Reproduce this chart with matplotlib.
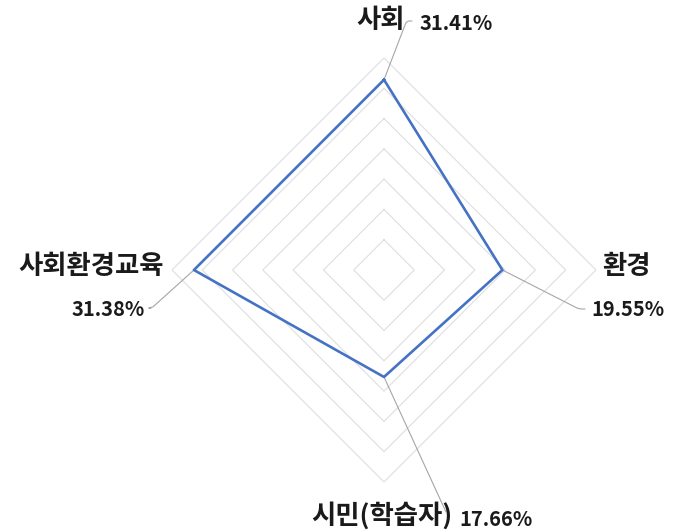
import numpy as np
import matplotlib
matplotlib.use('agg')
import matplotlib.pyplot as plt

plt.rcParams['font.family'] = ['Noto Sans CJK KR', 'DejaVu Sans']

categories = ['사회', '환경', '시민(학습자)', '사회환경교육']
values = [31.41, 19.55, 17.66, 31.38]
value_labels = ['31.41%', '19.55%', '17.66%', '31.38%']
ring_levels = [5, 10, 15, 20, 25, 30, 35]

W, H = 675, 531
fig = plt.figure(figsize=(W / 100, H / 100), dpi=100)

# polar axes centred at (384, 270) px with radius ~212 px
cx, cy, rad = 384, 270, 212
ax = fig.add_axes([(cx - rad) / W, (H - cy - rad) / H, 2 * rad / W, 2 * rad / H],
                  projection='polar')
ax.set_theta_offset(np.pi / 2)
ax.set_theta_direction(-1)
ax.set_ylim(0, 35)
ax.grid(False)
ax.spines['polar'].set_visible(False)
ax.set_xticks([])
ax.set_yticks([])

theta = np.linspace(0, 2 * np.pi, len(categories), endpoint=False)
theta_closed = np.append(theta, theta[0])

# diamond rings
for r in ring_levels:
    ax.plot(theta_closed, [r] * (len(categories) + 1), color='#dedede', lw=0.8, zorder=1)

vals_closed = np.append(values, values[0])
ax.plot(theta_closed, vals_closed, color='#4472C4', lw=1.9, zorder=3)

# leader lines: (elbow point in figure px from top, connection style)
leaders = [
    ((412, 21), 'angle,angleA=0,angleB=69,rad=3'),
    ((585, 309), 'angle,angleA=0,angleB=-27,rad=3'),
    ((446, 512), 'arc3,rad=0'),
    ((151, 308), 'angle,angleA=0,angleB=-138,rad=3'),
]
for t, v, (pt, cs) in zip(theta, values, leaders):
    ax.annotate('', xy=(t, v), xycoords='data',
                xytext=(pt[0], H - pt[1]), textcoords='figure pixels',
                arrowprops=dict(arrowstyle='-', color='#a6a6a6', lw=0.8,
                                shrinkA=0, shrinkB=0, connectionstyle=cs),
                zorder=2)

txt = dict(color='#1a1a1a', fontweight='bold')
lab_fs, num_fs = 19, 14.5

def put(s, x, y, ha, fs):
    fig.text(x / W, 1 - y / H, s, ha=ha, va='center', fontsize=fs, **txt)

put(categories[0], 381, 20, 'center', lab_fs)
put(value_labels[0], 420, 24, 'left', num_fs)
put(categories[1], 626, 267, 'center', lab_fs)
put(value_labels[1], 628, 310, 'center', num_fs)
put(categories[2], 453, 516, 'right', lab_fs)
put(value_labels[2], 459, 519, 'left', num_fs)
put(categories[3], 91, 267, 'center', lab_fs)
put(value_labels[3], 145, 309, 'right', num_fs)

fig.savefig('out.png', dpi=100, facecolor='white')
